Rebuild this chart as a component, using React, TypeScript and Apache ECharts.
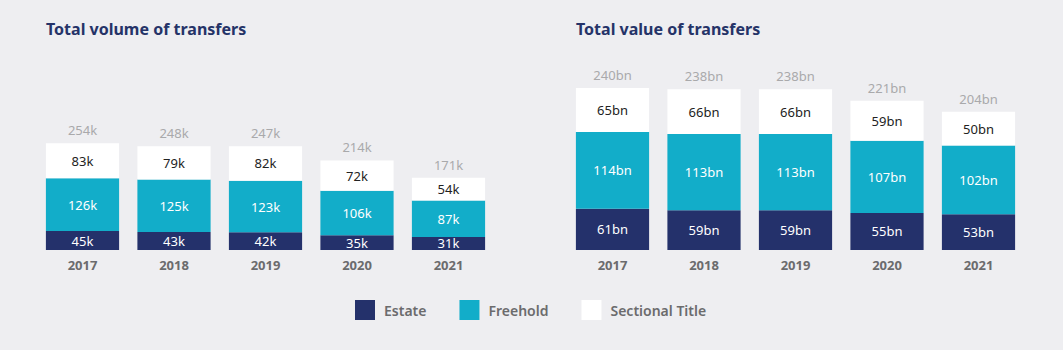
import React, { useEffect, useRef } from "react";
import * as echarts from "echarts";

const years = ["2017", "2018", "2019", "2020", "2021"];
const volEstate = [45, 43, 42, 35, 31];
const volFreehold = [126, 125, 123, 106, 87];
const volSectional = [83, 79, 82, 72, 54];
const volTotal = [254, 248, 247, 214, 171];
const valEstate = [61, 59, 59, 55, 53];
const valFreehold = [114, 113, 113, 107, 102];
const valSectional = [65, 66, 66, 59, 50];
const valTotal = [240, 238, 238, 221, 204];

const NAVY = "#24316b";
const CYAN = "#12adc9";
const WHITE = "#ffffff";
const BG = "#eeeef1";
const FONT = "Noto Sans";

export default function App() {
  const ref = useRef<HTMLDivElement>(null);
  useEffect(() => {
    document.body.style.margin = "0";
    const chart = echarts.init(ref.current!, null, { renderer: "svg" });
    const lbl = (color: string, unit: string) => ({
      show: true,
      position: "inside",
      color,
      fontFamily: FONT,
      fontSize: 13,
      formatter: (p: any) => p.value + unit,
    });
    const barSeries = (
      idx: number,
      name: string,
      data: number[],
      color: string,
      textColor: string,
      unit: string
    ) => ({
      type: "bar",
      name,
      stack: "s" + idx,
      xAxisIndex: idx,
      yAxisIndex: idx,
      data,
      barWidth: "80%",
      itemStyle: { color },
      label: lbl(textColor, unit),
    });
    const totalSeries = (idx: number, data: number[], unit: string) => ({
      type: "line",
      name: "Total",
      xAxisIndex: idx,
      yAxisIndex: idx,
      data,
      symbol: "circle",
      symbolSize: 1,
      showSymbol: true,
      itemStyle: { color: "rgba(0,0,0,0)" },
      lineStyle: { width: 0, color: "rgba(0,0,0,0)" },
      label: {
        show: true,
        position: "top",
        distance: 6,
        color: "#a9a9ab",
        fontFamily: FONT,
        fontSize: 13,
        formatter: (p: any) => p.value + unit,
      },
    });
    const xAx = (gi: number) => ({
      type: "category",
      gridIndex: gi,
      data: years,
      axisLine: { show: false },
      axisTick: { show: false },
      axisLabel: {
        color: "#6b6b6d",
        fontWeight: "bold",
        fontFamily: FONT,
        fontSize: 13,
        margin: 8,
      },
    });
    const yAx = (gi: number, max: number) => ({
      type: "value",
      gridIndex: gi,
      min: 0,
      max,
      show: false,
      splitLine: { show: false },
    });
    chart.setOption({
      animation: false,
      backgroundColor: BG,
      title: [
        {
          text: "Total volume of transfers",
          left: 41,
          top: 16,
          textStyle: { color: "#253368", fontSize: 16, fontWeight: "bold", fontFamily: FONT },
        },
        {
          text: "Total value of transfers",
          left: 571,
          top: 16,
          textStyle: { color: "#253368", fontSize: 16, fontWeight: "bold", fontFamily: FONT },
        },
      ],
      legend: {
        data: ["Estate", "Freehold", "Sectional Title"],
        left: 350,
        top: 295,
        icon: "rect",
        itemWidth: 20,
        itemHeight: 20,
        itemGap: 33,
        textStyle: { color: "#6b6b6d", fontSize: 14, fontWeight: 600, fontFamily: FONT, padding: [0, 0, 0, 4] },
      },
      grid: [
        { left: 36.75, width: 457.5, top: 40, bottom: 100 },
        { left: 566.75, width: 457.5, top: 47.5, bottom: 100 },
      ],
      xAxis: [xAx(0), xAx(1)],
      yAxis: [yAx(0, 500), yAx(1, 300)],
      series: [
        barSeries(0, "Estate", volEstate, NAVY, "#ffffff", "k"),
        barSeries(0, "Freehold", volFreehold, CYAN, "#ffffff", "k"),
        barSeries(0, "Sectional Title", volSectional, WHITE, "#222222", "k"),
        totalSeries(0, volTotal, "k"),
        barSeries(1, "Estate", valEstate, NAVY, "#ffffff", "bn"),
        barSeries(1, "Freehold", valFreehold, CYAN, "#ffffff", "bn"),
        barSeries(1, "Sectional Title", valSectional, WHITE, "#222222", "bn"),
        totalSeries(1, valTotal, "bn"),
      ],
    });
    return () => chart.dispose();
  }, []);
  return <div ref={ref} style={{ width: 1063, height: 350 }} />;
}
